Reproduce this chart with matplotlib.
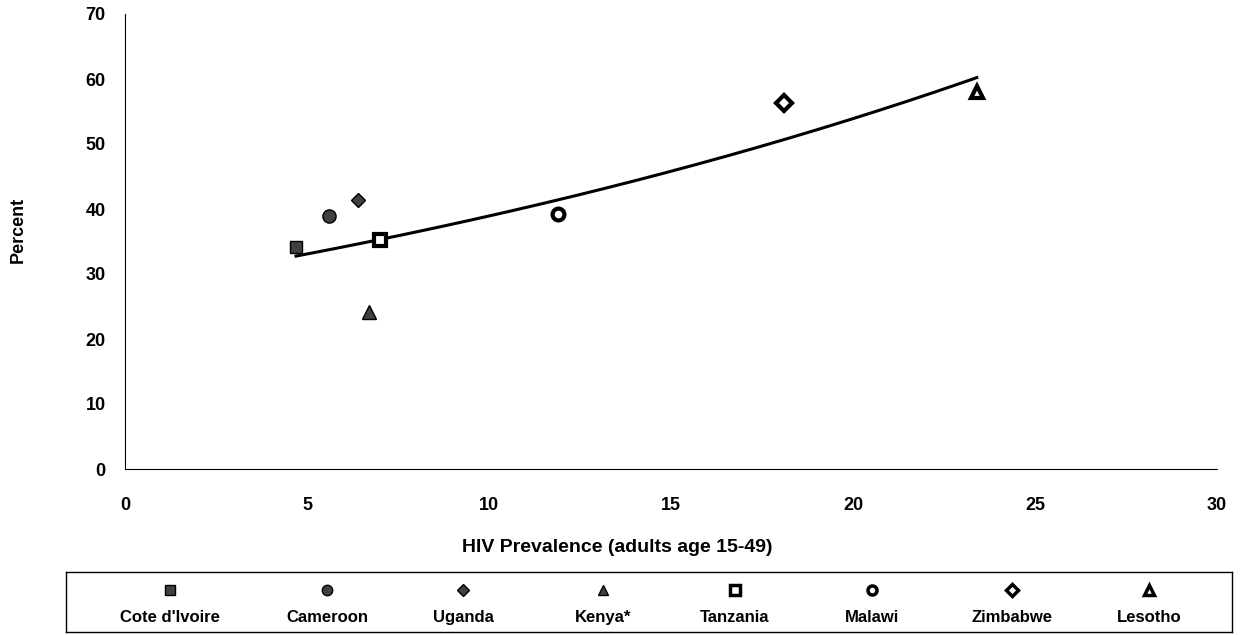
import numpy as np
import matplotlib.pyplot as plt

plt.rcParams['font.family'] = ['Liberation Sans', 'DejaVu Sans']
plt.rcParams['font.weight'] = 'bold'

countries = ["Cote d'Ivoire", "Cameroon", "Uganda", "Kenya*",
             "Tanzania", "Malawi", "Zimbabwe", "Lesotho"]
hiv = [4.7, 5.6, 6.4, 6.7, 7.0, 11.9, 18.1, 23.4]
pct = [34.1, 38.9, 41.4, 24.1, 35.2, 39.2, 56.3, 58.0]
markers = ['s', 'o', 'D', '^', 's', 'o', 'D', '^']
filled = [True, True, True, True, False, False, False, False]
sizes = [9, 9.5, 7.5, 9.5, 9, 8.5, 8.5, 8]
leg_sizes = [7, 7.5, 6, 7.5, 6.5, 6.5, 6, 7]

# legend slot centres (pixels inside the legend box)
leg_x = [170, 327, 463, 603, 735, 872, 1012, 1149]

fig = plt.figure(figsize=(12.42, 6.35), dpi=100)
ax = fig.add_axes([125/1242, 1-469/635, (1217-125)/1242, (469-14)/635])

def style(i):
    if filled[i]:
        return dict(mfc='#404040', mec='black', mew=1.0)
    return dict(mfc='white', mec='black', mew=3.0)

for i in range(len(countries)):
    ax.plot(hiv[i], pct[i], linestyle='none', marker=markers[i],
            ms=sizes[i], zorder=3, **style(i))

# exponential trend line (Excel style)
b, a = np.polyfit(hiv, np.log(pct), 1)
xs = np.linspace(min(hiv), max(hiv), 200)
ax.plot(xs, np.exp(a) * np.exp(b * xs), color='black', lw=2.2, zorder=2)

ax.set_xlim(0, 30)
ax.set_ylim(0, 70)
ax.set_xticks(range(0, 31, 5))
ax.set_yticks(range(0, 71, 10))
ax.tick_params(labelsize=13, length=0)
ax.tick_params(axis='x', pad=20)
ax.tick_params(axis='y', pad=14)
for s in ['top', 'right']:
    ax.spines[s].set_visible(False)
ax.set_xlabel('HIV Prevalence (adults age 15-49)', fontsize=14,
              fontweight='bold')
ax.xaxis.set_label_coords((617-125)/1092, -(547-469)/455)
ax.xaxis.label.set_va('center')
ax.set_ylabel('Percent', fontsize=13, fontweight='bold')
ax.yaxis.set_label_coords((18-125)/1092, (469-230)/455)
ax.yaxis.label.set_va('center')

# legend box
lax = fig.add_axes([66/1242, 1-632/635, (1232-66)/1242, 60/635])
lax.set_xlim(66, 1232)
lax.set_ylim(0, 60)
lax.set_xticks([])
lax.set_yticks([])
for s in lax.spines.values():
    s.set_linewidth(1.0)
for i, name in enumerate(countries):
    st = style(i)
    if not filled[i]:
        st['mew'] = 2.5
    lax.plot(leg_x[i], 42, linestyle='none', marker=markers[i],
             ms=leg_sizes[i], **st)
    lax.text(leg_x[i], 10, name, ha='center', va='baseline', fontsize=12,
             fontweight='bold')

fig.savefig('out.png', dpi=100)
